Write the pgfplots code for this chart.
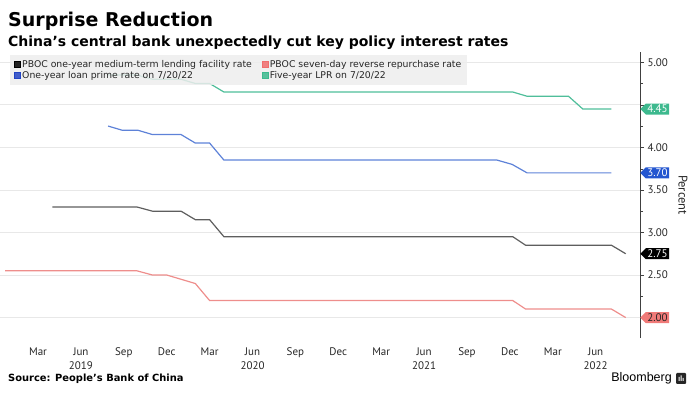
\documentclass[border=0pt]{standalone}
\usepackage{fontspec}
\setmainfont{DejaVu Sans}[Ligatures=ResetAll]
\newfontfamily\tickfont{PT Sans}
\newfontfamily\arialfont{Liberation Sans}
\usepackage{pgfplots}
\pgfplotsset{compat=1.18}
\usetikzlibrary{shapes.symbols}
\definecolor{mlf}{HTML}{5E5E5E}
\definecolor{rrp}{HTML}{EE8E8C}
\definecolor{lprone}{HTML}{5E82D8}
\definecolor{lprfive}{HTML}{4FBE9A}
\definecolor{tagred}{HTML}{F07A78}
\definecolor{tagblue}{HTML}{2456D0}
\definecolor{taggreen}{HTML}{3DB98E}
\definecolor{sqblue}{HTML}{2244C4}
\definecolor{sqred}{HTML}{F06E6E}
\definecolor{sqgreen}{HTML}{3DB98E}
\begin{document}
\begin{tikzpicture}[x=1pt,y=1pt]
\useasboundingbox (0,-60) rectangle (700,338);
\begin{axis}[
  at={(0pt,0pt)}, anchor=south west,
  scale only axis, width=640pt, height=286pt,
  xmin=-2.66, xmax=42.1, ymin=1.76, ymax=5.12,
  clip=false,
  axis y line*=right, axis x line*=bottom,
  x axis line style={draw=none},
  y axis line style={draw=black!75, -},
  xtick={0,3,...,39},
  xticklabels={Mar,Jun\\2019,Sep,Dec,Mar,Jun\\2020,Sep,Dec,Mar,Jun\\2021,Sep,Dec,Mar,Jun\\2022},
  xticklabel style={align=center, font=\tickfont\fontsize{11}{14}\selectfont, text=black!85, yshift=-2pt},
  x tick style={draw=none},
  ytick={2,2.5,3,3.5,4,4.5,5},
  yticklabels={,2.50,3.00,3.50,4.00,,5.00},
  minor y tick num=1,
  yticklabel style={font=\tickfont\fontsize{11}{13}\selectfont, text=black!85},
  y tick style={draw=black!75},
  tick align=outside,
  major tick length=4pt, minor tick length=3pt,
  ymajorgrids, grid style={black!9, line width=0.6pt},
  /pgf/number format/assume math mode=true,
  legend columns=2,
  legend cell align=left,
  legend style={at={(rel axis cs:0.0156,0.9895)}, anchor=north west,
    draw=none, fill=black!7, fill opacity=0.85, text opacity=1,
    font=\fontsize{9.3}{10.5}\selectfont, text=black!85,
    inner xsep=4pt, inner ysep=3pt,
    /tikz/every even column/.append style={column sep=8pt},
    row sep=-1.5pt},
]
\addlegendimage{only marks, mark=square*, mark size=3pt, color=black}
\addlegendentry{PBOC one-year medium-term lending facility rate}
\addlegendimage{only marks, mark=square*, mark size=3pt, color=sqred}
\addlegendentry{PBOC seven-day reverse repurchase rate}
\addlegendimage{only marks, mark=square*, mark size=3pt, color=sqblue}
\addlegendentry{One-year loan prime rate on 7/20/22}
\addlegendimage{only marks, mark=square*, mark size=3pt, color=sqgreen}
\addlegendentry{Five-year LPR on 7/20/22}

% PBOC 7-day reverse repo
\addplot[forget plot, rrp, line width=1.2pt] coordinates {
(-2.3,2.55) (6.9,2.55) (8.0,2.50) (9.0,2.50) (11.0,2.40) (12.0,2.20)
(33.2,2.20) (34.1,2.10) (40.1,2.10) (41.1,2.00)};
% PBOC 1y MLF
\addplot[forget plot, mlf, line width=1.2pt] coordinates {
(1.0,3.30) (6.9,3.30) (8.0,3.25) (10.0,3.25) (11.0,3.15) (12.0,3.15) (13.0,2.95)
(33.2,2.95) (34.1,2.85) (40.1,2.85) (41.1,2.75)};
% 1y LPR
\addplot[forget plot, lprone, line width=1.2pt] coordinates {
(4.9,4.25) (5.9,4.20) (7.0,4.20) (8.0,4.15) (10.0,4.15) (11.0,4.05) (12.0,4.05) (13.0,3.85)
(32.1,3.85) (33.15,3.80) (34.2,3.70) (40.1,3.70)};
% 5y LPR
\addplot[forget plot, lprfive, line width=1.2pt] coordinates {
(4.9,4.85) (6.9,4.85) (8.0,4.80) (10.0,4.80) (11.0,4.75) (12.0,4.75) (13.0,4.65)
(33.2,4.65) (34.2,4.60) (37.1,4.60) (38.1,4.45) (40.1,4.45)};

% end-value tags
\node[signal, signal to=west, fill=taggreen, text=white, anchor=west, inner xsep=1.5pt, inner ysep=1.5pt, font=\tickfont\fontsize{11}{12}\selectfont] at (axis cs:42.1,4.45) {4.45};
\node[signal, signal to=west, fill=tagblue, text=white, anchor=west, inner xsep=1.5pt, inner ysep=1.5pt, font=\tickfont\fontsize{11}{12}\selectfont] at (axis cs:42.1,3.70) {3.70};
\node[signal, signal to=west, fill=black, text=white, anchor=west, inner xsep=1.5pt, inner ysep=1.5pt, font=\tickfont\fontsize{11}{12}\selectfont] at (axis cs:42.1,2.75) {2.75};
\node[signal, signal to=west, fill=tagred, text=black!85, anchor=west, inner xsep=1.5pt, inner ysep=1.5pt, font=\tickfont\fontsize{11}{12}\selectfont] at (axis cs:42.1,2.00) {2.00};
\end{axis}

% titles
\node[anchor=base west, inner sep=0pt, font=\bfseries\fontsize{19}{22}\selectfont] at (8,311) {Surprise Reduction};
\node[anchor=base west, inner sep=0pt, font=\bfseries\fontsize{14}{16}\selectfont] at (8,291.5) {China's central bank unexpectedly cut key policy interest rates};
% axis title
\node[rotate=-90, inner sep=0pt, font=\tickfont\fontsize{12.5}{14}\selectfont, text=black!85] at (683,143) {Percent};
% footer
\node[anchor=base west, inner sep=0pt, font=\bfseries\fontsize{9.9}{11}\selectfont] at (8,-43) {Source: People's Bank of China};
\node[anchor=base east, inner sep=0pt, font=\arialfont\fontsize{12.5}{14}\selectfont] at (672,-44) {Bloomberg};
\fill[black!85, rounded corners=1pt] (676,-46) rectangle (686,-35);
\fill[white] (678.5,-43) rectangle (679.5,-39) (680.5,-43) rectangle (681.5,-37.5) (682.5,-43) rectangle (683.5,-40);
\end{tikzpicture}
\end{document}
